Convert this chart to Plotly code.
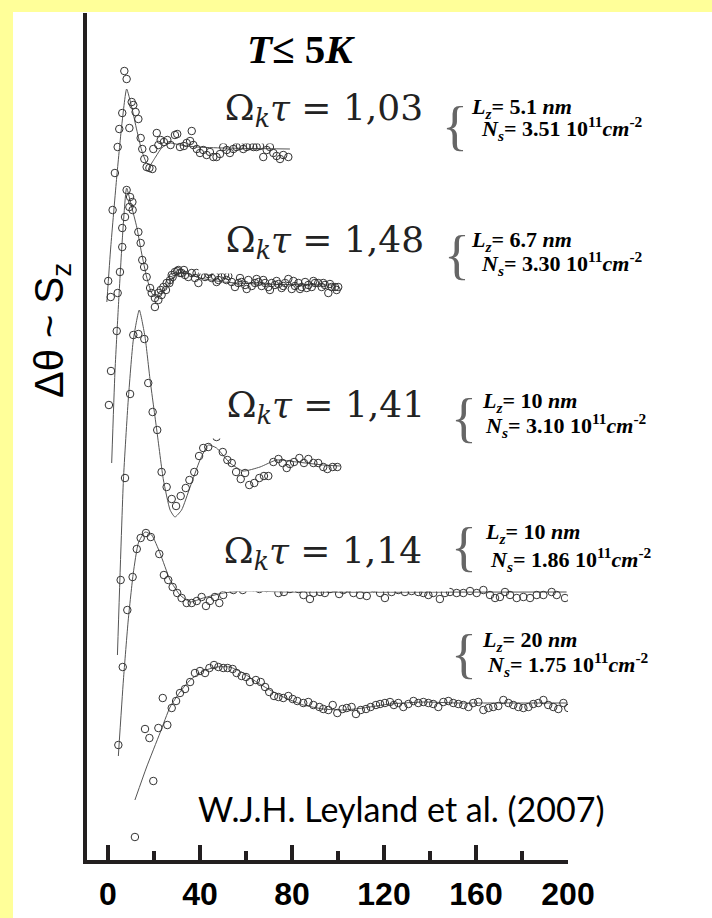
import plotly.graph_objects as go

# ---------------- data (time in ns, signal in arbitrary offset units) ----------------
t1x = [0.1,1.2,2.0,3.0,4.2,4.9,6.2,7.1,8.1,9.3,10.3,11.0,12.0,13.2,14.2,14.9,15.8,16.8,18.0,19.3,
       19.7,21.2,21.9,22.9,24.3,25.8,27.2,29.1,30.1,31.3,33.0,34.2,35.7,36.4,37.1,38.6,40.0,41.4,42.9,44.3,
       45.8,47.2,48.7,50.1,51.6,53.0,54.5,55.9,57.4,58.8,60.3,61.7,63.2,64.6,66.1,67.5,69.0,70.4,71.9,73.3,
       74.8,76.2,78.4]
t1y = [58.1,56.5,65.2,68.9,71.5,73.3,74.9,79.1,78.3,73.4,76.0,75.7,75.0,74.3,72.4,71.3,70.3,69.5,69.4,69.3,
       71.3,72.9,71.7,72.2,72.0,72.2,71.7,72.7,72.8,71.5,71.6,71.9,72.1,73.1,71.7,71.3,70.9,71.2,70.7,71.0,
       70.5,70.5,70.8,71.5,71.2,70.9,71.3,71.5,71.6,71.3,71.5,71.6,71.5,71.5,71.6,70.5,71.2,71.5,70.9,70.6,
       70.3,70.7,70.5]
f1x = [-0.5,1.2,3.8,5.9,8.1,10.3,12.5,14.6,16.8,18.3,20.4,23.3,27.0,31.3,38.6,50.1,79.1]
f1y = [56.0,61.5,68.5,73.5,77.3,75.5,73.2,71.2,69.9,69.7,70.4,71.4,71.9,71.7,71.5,71.4,71.3]

t2x = [0.4,1.3,3.8,4.2,5.2,6.2,6.2,7.4,8.1,9.3,9.6,10.6,10.7,13.2,14.2,14.9,15.7,16.8,18.3,19.0,
       20.4,20.4,21.9,21.9,22.9,23.3,24.1,25.2,25.5,26.7,27.0,27.7,28.1,29.1,30.1,30.6,31.3,
       32.0,33.0,33.5,34.9,36.4,37.8,38.5,39.3,40.7,42.2,43.6,44.2,45.1,46.5,47.2,48.0,49.4,50.9,51.5,52.3,
       53.8,55.2,56.7,57.4,58.1,59.6,60.3,61.0,62.5,63.9,64.6,65.4,66.8,67.5,68.3,69.7,70.4,71.2,72.6,73.3,
       74.1,75.5,76.2,77.0,78.4,79.9,80.6,81.3,82.8,83.5,84.2,85.7,86.4,87.1,88.6,89.3,90.0,91.4,92.9,93.6,
       94.3,95.8,96.5,97.2,98.7,99.4,100.1]
t2y = [45.7,49.1,53.1,56.9,59.0,61.5,63.4,64.5,67.2,65.5,66.5,66.0,65.2,63.0,61.9,60.2,59.5,58.5,57.4,56.9,
       56.4,55.5,56.2,56.9,57.2,56.7,57.5,57.2,57.9,57.9,58.2,58.7,58.5,59.0,59.1,59.2,58.9,
       58.9,59.2,58.7,58.5,58.9,58.4,58.9,57.9,58.7,58.5,58.8,59.0,58.4,58.6,58.0,58.2,58.5,58.7,58.2,58.6,
       58.0,57.5,57.9,58.4,58.0,57.7,57.3,58.2,57.6,57.9,58.3,58.0,57.6,58.2,57.9,57.5,57.2,57.9,57.7,58.1,
       57.8,57.4,57.6,57.9,58.3,57.3,58.1,57.6,57.9,57.3,57.5,58.0,57.4,57.7,57.5,58.1,57.9,57.9,57.5,57.9,
       57.7,56.9,57.8,57.5,57.5,57.2,57.5]
f2x = [1.6,3.0,4.5,6.2,8.1,10.3,12.5,14.6,16.8,19.0,21.2,23.3,27.0,30.1,33.5,40.0,50.1,64.6,99.4]
f2y = [39.9,48.9,55.5,62.2,67.4,65.5,63.5,60.9,58.5,56.9,56.4,56.9,58.0,58.9,58.9,58.4,58.0,57.8,57.7]

t3x = [5.5,7.4,9.6,11.0,13.2,15.8,17.5,19.4,21.4,23.3,25.5,27.7,29.6,31.6,33.8,35.4,37.5,39.6,41.4,43.6,
       47.2,49.9,51.9,53.8,55.7,57.7,59.6,61.4,63.6,65.8,67.8,69.7,71.9,74.1,75.9,77.7,79.1,80.9,83.2,85.2,
       87.1,89.3,91.4,93.6,95.4,97.7,99.7]
t3y = [28.2,38.4,46.8,52.7,52.8,52.3,47.9,45.0,43.2,39.0,37.5,36.3,35.6,36.6,37.4,38.2,39.0,40.6,41.4,41.5,
       42.5,41.0,40.2,39.9,39.0,38.3,38.9,37.7,37.9,38.4,38.6,38.6,40.0,40.3,39.9,39.4,39.8,40.0,40.4,39.9,
       40.3,39.9,39.9,39.5,39.3,39.5,39.5]
f3x = [4.1,6.7,8.8,11.0,13.6,16.1,18.3,21.2,24.1,27.0,29.1,32.0,35.7,40.0,43.6,47.2,53.0,58.8,66.1,73.3,82.0,93.6,100.9]
f3y = [20.7,38.2,46.2,52.2,55.2,52.5,48.2,43.2,38.2,35.2,34.5,35.2,37.5,40.2,41.7,41.4,39.9,39.1,39.5,40.2,40.0,39.7,39.6]

t4x = [4.5,6.4,8.4,10.7,12.5,14.2,16.5,18.6,22.3,24.3,26.2,28.1,30.1,32.0,34.2,36.4,38.6,40.7,42.6,44.3,
       46.5,48.4,50.1,54.5,58.6,60.9,63.2,65.8,69.0,71.6,74.1,76.5,79.1,82.8,85.0,87.8,89.3,92.2,94.3,96.5,
       98.7,100.5,102.3,104.5,106.7,109.6,112.5,115.4,118.3,120.4,123.3,126.2,129.1,132.0,134.9,137.1,139.3,
       141.4,144.3,146.5,148.7,151.6,154.5,157.4,160.3,163.2,166.1,168.3,170.4,172.6,174.8,177.7,180.6,183.5,
       186.4,189.3,192.9,195.1,198.7]
t4y = [11.7,19.5,25.2,28.5,31.3,32.4,32.9,32.5,30.8,28.7,28.2,27.5,26.9,26.4,25.9,25.9,26.1,26.5,25.6,26.1,
       26.5,25.9,26.7,27.2,27.2,27.6,27.5,27.3,27.4,27.6,26.9,27.0,27.3,27.3,26.7,26.3,26.9,27.0,26.9,27.3,
       27.4,26.8,27.2,27.4,26.9,26.7,26.6,27.4,26.9,26.4,27.0,27.2,27.0,27.1,27.0,26.9,26.7,
       26.9,26.3,26.9,27.0,26.9,26.9,27.1,26.9,27.2,26.7,26.4,26.5,27.0,26.7,26.4,26.5,26.4,
       26.7,26.7,27.0,26.7,26.4]
f4x = [4.5,6.7,8.8,11.0,13.2,16.1,19.0,22.6,27.0,31.3,35.7,41.4,50.1,58.8,79.1,199.4]
f4y = [10.6,18.2,24.2,28.9,31.9,33.0,32.7,30.9,28.2,26.7,26.0,26.4,26.9,27.1,27.0,27.0]

t5x = [11.7,19.7,16.1,18.0,21.9,25.8,23.8,27.7,29.6,31.3,33.5,35.7,37.8,40.0,42.2,44.1,46.1,48.0,50.1,52.0,
       54.2,55.9,58.1,60.0,61.7,64.3,66.4,68.3,70.1,72.2,74.1,76.2,78.4,80.3,82.3,84.9,87.1,89.3,91.9,93.6,
       95.8,97.7,99.7,102.0,103.8,105.9,107.8,109.9,112.2,114.2,116.5,118.3,120.4,122.6,124.3,126.2,128.4,
       130.6,132.8,134.9,137.1,139.3,141.4,143.6,145.8,148.0,150.1,152.3,154.5,156.7,158.8,161.0,163.2,165.4,
       167.5,169.7,171.9,174.1,176.2,178.4,180.6,182.8,184.9,187.1,189.3,191.4,193.6,195.8,198.0,200.1]
t5y = [2.5,8.1,13.3,12.4,13.4,13.7,16.4,15.4,16.1,16.9,17.3,18.0,18.9,19.1,18.9,19.4,19.7,19.5,19.4,19.4,
       19.3,18.9,18.6,18.5,18.0,18.2,18.0,17.5,17.0,16.6,16.5,16.4,16.6,16.3,16.1,15.9,16.0,15.7,15.5,15.3,
       15.2,15.7,14.9,15.3,15.4,15.5,14.8,15.2,15.3,15.5,15.7,15.8,15.9,16.0,15.7,15.9,15.5,
       15.8,16.1,15.9,16.0,15.9,15.8,15.5,16.0,16.1,15.9,15.8,15.7,15.5,15.9,16.0,15.2,15.4,
       15.5,15.6,16.2,15.9,15.7,15.5,15.4,15.5,15.8,15.9,16.2,15.7,15.5,15.3,15.9,15.4]
f5x = [11.7,16.8,22.6,27.0,31.3,35.7,41.4,47.2,53.0,58.8,64.6,70.4,76.2,84.9,93.6,102.3,111.0,122.6,137.1,151.6,166.1,180.6,199.4]
f5y = [6.2,9.5,12.9,15.5,17.0,18.2,19.1,19.5,19.5,18.9,18.0,17.2,16.5,15.7,15.3,15.2,15.4,15.8,16.0,15.9,15.9,15.9,15.9]

omega_tau = ["1,03", "1,48", "1,41", "1,14"]
lz_vals = ["5.1", "6.7", "10", "10", "20"]
ns_vals = ["3.51", "3.30", "3.10", "1.86", "1.75"]
x_ticks = [0, 40, 80, 120, 160, 200]
x_minor = [20, 60, 100, 140, 180]

# ---------------- figure ----------------
fig = go.Figure()
series = [(t1x, t1y, f1x, f1y), (t2x, t2y, f2x, f2y), (t3x, t3y, f3x, f3y),
          (t4x, t4y, f4x, f4y), (t5x, t5y, f5x, f5y)]
for tx, ty, fx, fy in series:
    fig.add_trace(go.Scatter(x=fx, y=fy, mode="lines",
                             line=dict(color="#555555", width=1, shape="spline", smoothing=0.5),
                             hoverinfo="skip"))
    fig.add_trace(go.Scatter(x=tx, y=ty, mode="markers",
                             marker=dict(symbol="circle-open", size=7.5, color="#333333",
                                         line=dict(width=1))))

AX = "#231f20"
fig.update_layout(
    width=712, height=918,
    margin=dict(l=87, r=144, t=13, b=58, autoexpand=False),
    paper_bgcolor="white", plot_bgcolor="white",
    showlegend=False,
    xaxis=dict(range=[-9.13, 200], showline=True, linewidth=4, linecolor=AX,
               ticks="inside", ticklen=15, tickwidth=4, tickcolor=AX,
               tickvals=x_ticks, ticktext=[str(v) for v in x_ticks],
               tickfont=dict(family="Liberation Sans", size=32, color="black", weight="bold"),
               ticklabelstandoff=3, automargin=False,
               showgrid=False, zeroline=False,
               minor=dict(tickvals=x_minor, ticks="inside", ticklen=9, tickwidth=4,
                          tickcolor=AX, showgrid=False)),
    yaxis=dict(range=[0.2, 84.9], showline=True, linewidth=4, linecolor=AX, automargin=False,
               showticklabels=False, ticks="", showgrid=False, zeroline=False),
)

# yellow frame bands (left and top)
YEL = "#FFFF99"
fig.add_shape(type="rect", xref="paper", yref="paper", x0=-0.181, x1=-0.1538, y0=-0.07, y1=1.016,
              fillcolor=YEL, line=dict(width=0), layer="below")
fig.add_shape(type="rect", xref="paper", yref="paper", x0=-0.181, x1=1.30, y0=1.0012, y1=1.016,
              fillcolor=YEL, line=dict(width=0), layer="below")

ann = []
# equations with white background boxes
eq_pos = [(93.7, 75.2, 64), (94.3, 62.0, 60), (94.8, 45.5, 60), (93.5, 30.9, 74)]
for val, (ex, ey, eh) in zip(omega_tau, eq_pos):
    ann.append(dict(x=ex, y=ey, xref="x", yref="y", showarrow=False,
                    text=f"Ω<sub><i>k</i></sub><i>τ</i> = {val}",
                    font=dict(family="DejaVu Serif", size=36, color="#222222"),
                    bgcolor="white", width=250, height=eh, valign="middle"))

# title
ann.append(dict(x=84.0, y=81.3, xref="x", yref="y", showarrow=False,
                text="<b><i>T</i>≤ 5<i>K</i></b>",
                font=dict(family="Liberation Serif", size=41, color="black")))

# side labels
lab_pos = [  # (Lx, Ly, Nx, Ny, brace_x, brace_y)
    (157.0, 75.4, 161.4, 73.4, 151.0, 73.6),
    (157.0, 62.1, 161.4, 59.9, 151.8, 60.7),
    (161.8, 46.0, 163.1, 43.7, 154.8, 44.4),
    (163.1, 32.9, 165.3, 30.3, 154.8, 31.5),
    (161.8, 22.1, 164.0, 19.8, 154.8, 20.8),
]
lf = dict(family="Liberation Serif", size=22, color="black")
for lz, nsv, (lx, ly, nx, ny, bx, by) in zip(lz_vals, ns_vals, lab_pos):
    ann.append(dict(x=bx, y=by, xref="x", yref="y", showarrow=False,
                    text="{", font=dict(family="Liberation Serif", size=54, color="#666666")))
    ann.append(dict(x=lx, y=ly, xref="x", yref="y", showarrow=False, xanchor="left",
                    text=f"<b><i>L</i><sub><i>z</i></sub>= {lz} <i>nm</i></b>", font=lf))
    ann.append(dict(x=nx, y=ny, xref="x", yref="y", showarrow=False, xanchor="left",
                    text=f"<b><i>N</i><sub><i>s</i></sub>= {nsv} 10<sup>11</sup><i>cm</i><sup>-2</sup></b>",
                    font=lf))

# y label (paper coords, outside plot area)
ann.append(dict(x=-0.0728, y=0.6257, xref="paper", yref="paper", showarrow=False, textangle=-90,
                xanchor="center", yanchor="middle",
                text="Δθ ~ S<sub>z</sub>",
                font=dict(family="Liberation Sans", size=40, color="black")))

# citation
ann.append(dict(x=127.4, y=5.4, xref="x", yref="y", showarrow=False,
                text="W.J.H. Leyland et al. (2007)",
                font=dict(family="Lato", size=34, color="black")))

fig.update_layout(annotations=ann)
fig.write_html("out.html", config={"displayModeBar": False},
               post_script="document.body.style.margin='0';")
